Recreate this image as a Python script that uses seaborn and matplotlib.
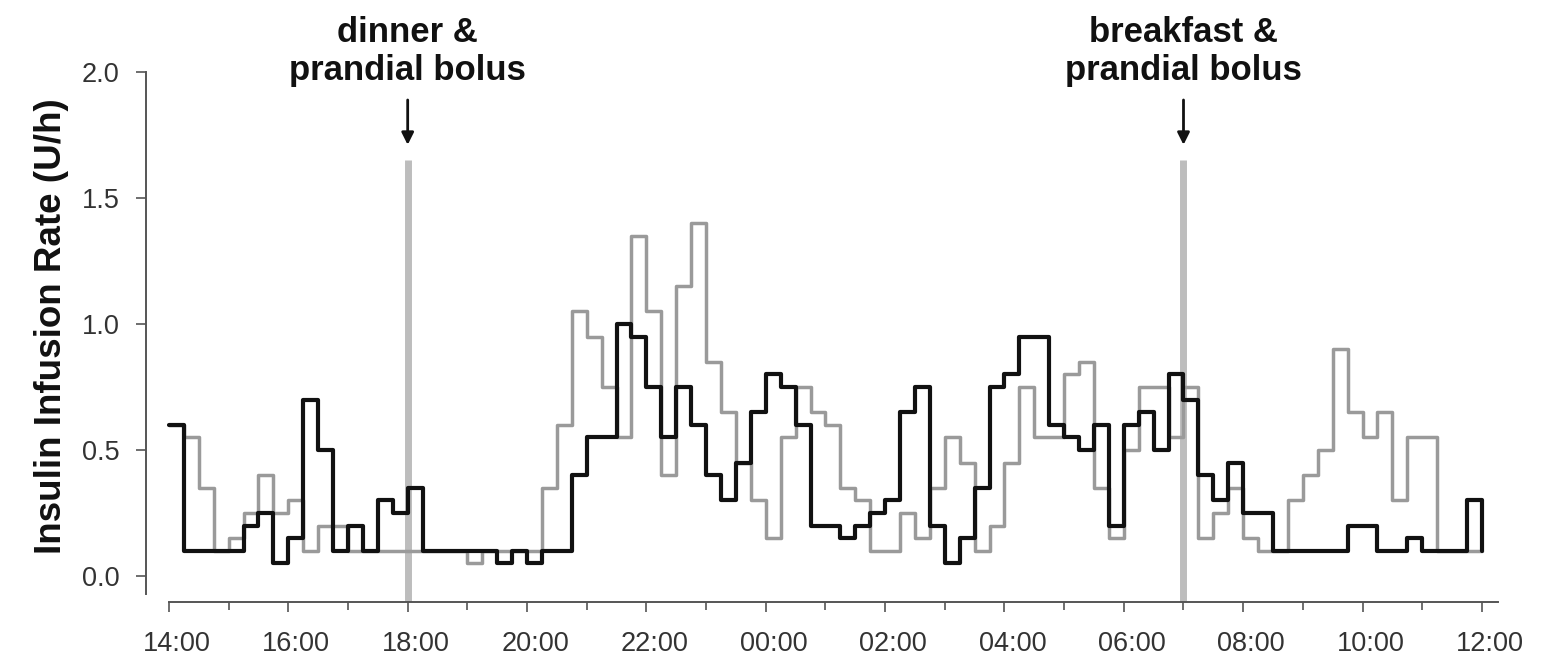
import numpy as np
import pandas as pd
import matplotlib
matplotlib.use("Agg")
import matplotlib.pyplot as plt
import matplotlib.transforms as mtransforms
import seaborn as sns

# insulin infusion rate (U/h), one value per 15 min from 14:00 to 12:00 next day
black_rate = [
    0.6, 0.1, 0.1, 0.1, 0.1, 0.2, 0.25, 0.05,
    0.15, 0.7, 0.5, 0.1, 0.2, 0.1, 0.3, 0.25,
    0.35, 0.1, 0.1, 0.1, 0.1, 0.1, 0.05, 0.1,
    0.05, 0.1, 0.1, 0.4, 0.55, 0.55, 1.0, 0.95,
    0.75, 0.55, 0.75, 0.6, 0.4, 0.3, 0.45, 0.65,
    0.8, 0.75, 0.6, 0.2, 0.2, 0.15, 0.2, 0.25,
    0.3, 0.65, 0.75, 0.2, 0.05, 0.15, 0.35, 0.75,
    0.8, 0.95, 0.95, 0.6, 0.55, 0.5, 0.6, 0.2,
    0.6, 0.65, 0.5, 0.8, 0.7, 0.4, 0.3, 0.45,
    0.25, 0.25, 0.1, 0.1, 0.1, 0.1, 0.1, 0.2,
    0.2, 0.1, 0.1, 0.15, 0.1, 0.1, 0.1, 0.3,
    0.1,
]
grey_rate = [
    0.6, 0.55, 0.35, 0.1, 0.15, 0.25, 0.4, 0.25,
    0.3, 0.1, 0.2, 0.2, 0.1, 0.1, 0.1, 0.1,
    0.1, 0.1, 0.1, 0.1, 0.05, 0.1, 0.1, 0.1,
    0.1, 0.35, 0.6, 1.05, 0.95, 0.75, 0.55, 1.35,
    1.05, 0.4, 1.15, 1.4, 0.85, 0.65, 0.45, 0.3,
    0.15, 0.55, 0.75, 0.65, 0.6, 0.35, 0.3, 0.1,
    0.1, 0.25, 0.15, 0.35, 0.55, 0.45, 0.1, 0.2,
    0.45, 0.75, 0.55, 0.55, 0.8, 0.85, 0.35, 0.15,
    0.5, 0.75, 0.75, 0.55, 0.75, 0.15, 0.25, 0.35,
    0.15, 0.1, 0.1, 0.3, 0.4, 0.5, 0.9, 0.65,
    0.55, 0.65, 0.3, 0.55, 0.55, 0.1, 0.1, 0.1,
    0.1,
]
step_hours = 0.25

tick_labels = ['14:00', '16:00', '18:00', '20:00', '22:00', '00:00',
               '02:00', '04:00', '06:00', '08:00', '10:00', '12:00']

# meals: hours after 14:00
event_hours = [4, 17]
event_labels = ['dinner &\nprandial bolus', 'breakfast &\nprandial bolus']
event_top = 1.65

sns.set_style("ticks")
plt.rcParams['font.family'] = ['Liberation Sans', 'DejaVu Sans']

hours = np.arange(len(black_rate)) * step_hours
df = pd.DataFrame({'hours': hours, 'black': black_rate, 'grey': grey_rate})

fig = plt.figure(figsize=(15.44, 6.59), dpi=100)
ax = fig.add_axes([146 / 1544, 57 / 659, 1352 / 1544, 530 / 659])

# meal markers
ax.vlines(event_hours, -0.103, event_top, color='#bdbdbd', lw=5, zorder=1)

sns.lineplot(data=df, x='hours', y='grey', drawstyle='steps-post',
             color='#9a9a9a', lw=2.5, ax=ax, zorder=2)
sns.lineplot(data=df, x='hours', y='black', drawstyle='steps-post',
             color='#111111', lw=3, ax=ax, zorder=3)

ax.set_xlim(-0.385, 22.27)
ax.set_ylim(-0.103, 2.0)

ax.set_xticks(np.arange(0, 23, 2))
ax.set_xticklabels(tick_labels)
ax.set_xticks(np.arange(1, 23, 2), minor=True)
ax.set_yticks([0.0, 0.5, 1.0, 1.5, 2.0])
ax.set_yticklabels(['0.0', '0.5', '1.0', '1.5', '2.0'])

ax.tick_params(axis='both', which='major', direction='out', length=7.2,
               width=1.2, color='#555555', labelsize=19.5, labelcolor='#333333',
               bottom=True, left=True)
ax.tick_params(axis='x', which='major', pad=14)
ax.tick_params(axis='y', which='major', pad=12)
ax.tick_params(axis='x', which='minor', direction='out', length=5.5,
               width=1.2, color='#555555', bottom=True)

# the x labels sit slightly right of their ticks in the original
shift = mtransforms.ScaledTranslation(8 / 100, 0, fig.dpi_scale_trans)
for lab in ax.get_xticklabels():
    lab.set_transform(lab.get_transform() + shift)

for side in ['top', 'right']:
    ax.spines[side].set_visible(False)
ax.spines['left'].set_bounds(-0.07, 2.0)
ax.spines['bottom'].set_bounds(0, 22.27)
for side in ['left', 'bottom']:
    ax.spines[side].set_color('#555555')
    ax.spines[side].set_linewidth(1.4)

ax.set_xlabel('')
ax.set_ylabel('Insulin Infusion Rate (U/h)', fontsize=26.5, fontweight='bold',
              color='#111111')
ax.yaxis.set_label_coords(-0.057, 0.52)

for h, label in zip(event_hours, event_labels):
    ax.annotate('', xy=(h, 1.70), xytext=(h, 1.90),
                arrowprops=dict(arrowstyle='-|>', color='#111111', lw=2,
                                mutation_scale=18))
    ax.text(h, 1.94, label, ha='center', va='bottom', fontsize=25,
            fontweight='bold', color='#111111', clip_on=False,
            linespacing=1.2)

fig.savefig('out.png', dpi=100)
plt.close(fig)
